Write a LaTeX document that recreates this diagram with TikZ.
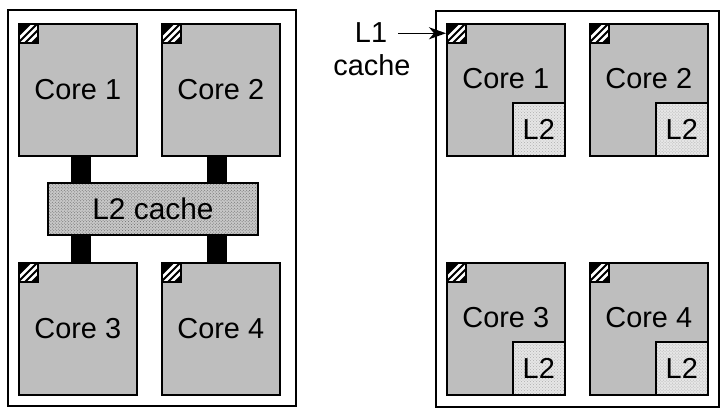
\documentclass[tikz,border=0pt]{standalone}
\usepackage{fontspec}
\setmainfont{Liberation Sans}
\usetikzlibrary{patterns,arrows.meta,calc}
\definecolor{coregray}{RGB}{190,190,190}
\definecolor{busgray}{RGB}{200,200,200}
\definecolor{dotgray}{RGB}{105,105,105}
\definecolor{ltwo}{RGB}{230,230,230}
\definecolor{ltwodot}{RGB}{175,175,175}
\begin{document}
\begin{tikzpicture}[x=1bp,y=-1bp,
  lbl/.style={font=\fontsize{29}{31}\selectfont},
  chip/.style={draw=black, line width=2bp, fill=white, inner sep=0, anchor=north west},
  core/.style={draw=black, line width=1.5bp, fill=coregray, minimum width=118bp,
    minimum height=132bp, inner sep=0, anchor=north west, lbl},
  lone/.style={draw=black, line width=1.5bp, fill=black, minimum size=19bp, inner sep=0,
    anchor=north west,
    path picture={
      \foreach \d in {-7,0,7}
        \draw[white, line width=2.8bp]
          ([xshift=\d bp, yshift=-3bp]path picture bounding box.south west) -- ++(26bp,26bp);
    }},
  sharedl2/.style={draw=black, line width=2bp, preaction={fill=busgray},
    pattern=crosshatch dots, pattern color=dotgray, minimum width=210bp,
    minimum height=52bp, inner sep=0, anchor=north west,
    font=\fontsize{30}{32}\selectfont},
  privl2/.style={draw=black, line width=1.5bp, preaction={fill=ltwo},
    pattern=crosshatch dots, pattern color=ltwodot, minimum width=52bp,
    minimum height=53bp, inner sep=0, anchor=south east, lbl},
  bus/.style={line width=20bp, black},
  arr/.style={line width=1.5bp, -{Stealth[length=17bp,width=12bp,inset=5bp]}}
]
\useasboundingbox (0,0) rectangle (727,410);

% ---- left chip: shared L2 ----
\node[chip, minimum width=288bp, minimum height=396bp] (lchip) at (7,9) {};
\node[core] (c1) at (18,23) {Core 1};
\node[core] (c2) at (161,23) {Core 2};
\node[core] (c3) at (18,262) {Core 3};
\node[core] (c4) at (161,262) {Core 4};
\node[sharedl2] (l2) at (47,182) {L2 cache};
\draw[bus] ([xshift=3bp]c1.south) -- ([xshift=3bp]l2.north -| c1.south);
\draw[bus] ([xshift=-3.5bp]c2.south) -- ([xshift=-3.5bp]l2.north -| c2.south);
\draw[bus] ([xshift=3bp]c3.north) -- ([xshift=3bp]l2.south -| c3.north);
\draw[bus] ([xshift=-3.5bp]c4.north) -- ([xshift=-3.5bp]l2.south -| c4.north);
\node[lone] (c1a) at (c1.north west) {};
\node[lone] (c2a) at (c2.north west) {};
\node[lone] (c3a) at (c3.north west) {};
\node[lone] (c4a) at (c4.north west) {};

% ---- right chip: private L2 ----
\node[chip, minimum width=283bp, minimum height=396bp] (rchip) at (435,10) {};
\node[core, label={[lbl, yshift=11bp]center:Core 1}] (r1) at (446,23) {};
\node[core, label={[lbl, yshift=11bp]center:Core 2}] (r2) at (589,23) {};
\node[core, label={[lbl, yshift=11bp]center:Core 3}] (r3) at (446,262) {};
\node[core, label={[lbl, yshift=11bp]center:Core 4}] (r4) at (589,262) {};
\node[privl2] (r1b) at (r1.south east) {L2};
\node[privl2] (r2b) at (r2.south east) {L2};
\node[privl2] (r3b) at (r3.south east) {L2};
\node[privl2] (r4b) at (r4.south east) {L2};
\node[lone] (r1a) at (r1.north west) {};
\node[lone] (r2a) at (r2.north west) {};
\node[lone] (r3a) at (r3.north west) {};
\node[lone] (r4a) at (r4.north west) {};

% ---- L1 cache label ----
\node[lbl, inner sep=0] (l1t) at (371,33) {L1};
\node[lbl, inner sep=0] (cachet) at (372,65) {cache};
\draw[arr, shorten <=11bp] (l1t.east |- r1a.west) -- (r1a.west);
\end{tikzpicture}
\end{document}
